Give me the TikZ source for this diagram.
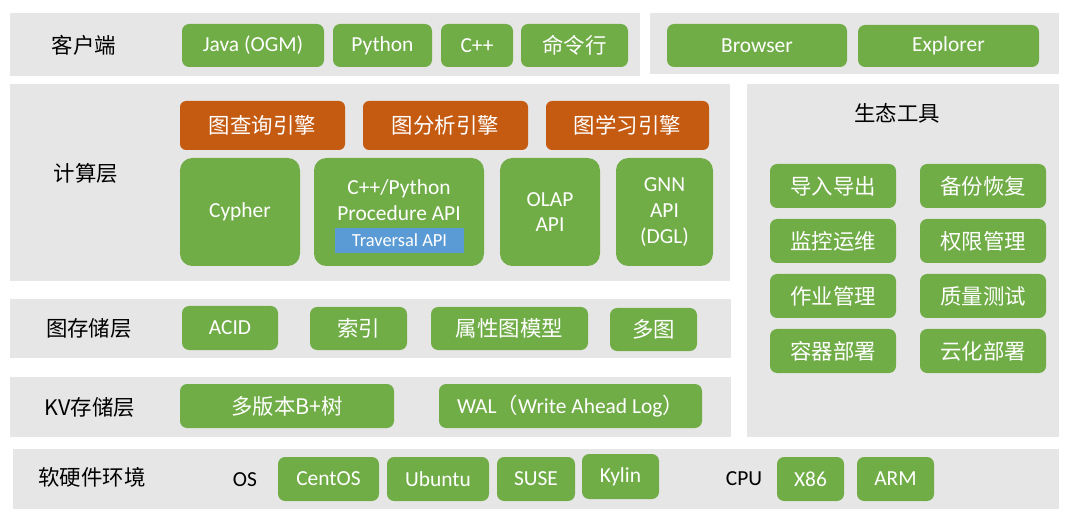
\documentclass[tikz,border=0pt]{standalone}
\usepackage{fontspec}
\setmainfont{Carlito}
\newfontfamily\cjk{Noto Sans CJK SC}
\usepackage{tikz}
\usetikzlibrary{fit}
\definecolor{panelgray}{HTML}{E7E6E6}
\definecolor{boxgreen}{HTML}{70AD47}
\definecolor{boxorange}{HTML}{C55A11}
\definecolor{boxblue}{HTML}{5B9BD5}
\tikzset{
  panel/.style={fill=panelgray, inner sep=0pt},
  size/.style 2 args={minimum width=#1*0.02cm, minimum height=#2*0.02cm},
  gbox/.style={fill=boxgreen, rounded corners=4pt, inner sep=0pt, text=white, align=center},
  bigbox/.style={gbox, rounded corners=7pt},
  obox/.style={fill=boxorange, rounded corners=3.5pt, inner sep=0pt, text=white},
  tbox/.style={fill=boxblue, inner sep=0pt, text=white, font=\fontsize{10.5}{12}\selectfont},
  lbl/.style={text=black, inner sep=0pt},
}

\begin{document}
\begin{tikzpicture}[x=0.02cm, y=-0.02cm, font=\fontsize{12.2}{14.7}\selectfont]
    \useasboundingbox (0,0) rectangle (1072,520);
    % Layer panels
    \node[panel, fit={(10,13) (640,76)}] (client) {};
    \node[panel, fit={(650,13) (1059,74)}] (web) {};
    \node[panel, fit={(10,84) (730,281)}] (compute) {};
    \node[panel, fit={(747,84) (1059,437)}] (eco) {};
    \node[panel, fit={(10,299) (731,358)}] (storage) {};
    \node[panel, fit={(10,377) (731,437)}] (kv) {};
    \node[panel, fit={(13,449) (1059,509)}] (env) {};
    % Layer labels
    \node[lbl] (clientlbl) at (84,45) {\cjk 客户端};
    \node[lbl] (computelbl) at (86,173) {\cjk 计算层};
    \node[lbl] (storagelbl) at (89,328) {\cjk 图存储层};
    \node[lbl] (kvlbl) at (90,407) {\cjk KV存储层};
    \node[lbl] (envlbl) at (92,477) {\cjk 软硬件环境};
    \node[lbl] (ecolbl) at (897,113) {\cjk 生态工具};
    % Client row
    \node[gbox, size={142}{43}] (java) at (253,45.5) {Java (OGM)};
    \node[gbox, size={99}{43}] (python) at (382.5,45.5) {Python};
    \node[gbox, size={72}{43}] (cpp) at (477,45.5) {C++};
    \node[gbox, size={107}{43}] (cmd) at (574.5,45.5) {\cjk 命令行};
    \node[gbox, size={180}{43}] (browser) at (757,45.5) {Browser};
    \node[gbox, size={181}{42}] (explorer) at (948.5,46) {Explorer};
    % Engines
    \node[obox, size={165}{49}] (query) at (262.5,125.5) {\cjk 图查询引擎};
    \node[obox, size={165}{49}] (analysis) at (445.5,125.5) {\cjk 图分析引擎};
    \node[obox, size={163}{49}] (learning) at (627.5,125.5) {\cjk 图学习引擎};
    % APIs
    \node[bigbox, size={120}{108}] (cypher) at (240,212) {Cypher};
    \node[bigbox, size={170}{108}] (procbox) at (399,212) {};
    \node[gbox, fill=none] (proc) at (399,200) {C++/Python\\Procedure API};
    \node[tbox, size={129}{25}] (traversal) at (399.5,240.5) {Traversal API};
    \node[bigbox, size={100}{108}] (olap) at (550,212) {OLAP\\API};
    \node[bigbox, size={97}{108}] (gnn) at (664.5,212) {GNN\\API\\(DGL)};
    % Ecosystem tools
    \foreach \name/\txt/\cx/\cy in {imp/导入导出/833/186, mon/监控运维/833/241,
        job/作业管理/833/296, ctr/容器部署/833/351, bak/备份恢复/983/186,
        acl/权限管理/983/241, qa/质量测试/983/296, cloud/云化部署/983/351} {
        \node[gbox, size={126}{44}] (\name) at (\cx,\cy) {\cjk \txt};
    }
    % Graph storage
    \node[gbox, size={96}{44}] (acid) at (230,328) {ACID};
    \node[gbox, size={97}{43}] (index) at (358.5,328.5) {\cjk 索引};
    \node[gbox, size={157}{43}] (propgraph) at (509.5,328.5) {\cjk 属性图模型};
    \node[gbox, size={87}{43}] (multigraph) at (653.5,329.5) {\cjk 多图};
    % KV storage
    \node[gbox, size={214}{44}] (btree) at (287,406) {\cjk 多版本B+树};
    \node[gbox, size={263}{44}] (wal) at (570.5,406) {WAL{\cjk （}Write Ahead Log{\cjk ）}};
    % Environment
    \node[lbl] (os) at (245,480) {OS};
    \node[gbox, size={101}{44}] (centos) at (328.5,479) {CentOS};
    \node[gbox, size={102}{44}] (ubuntu) at (438,479) {Ubuntu};
    \node[gbox, size={78}{44}] (suse) at (536,479) {SUSE};
    \node[gbox, size={77}{45}] (kylin) at (620.5,476.5) {Kylin};
    \node[lbl] (cpu) at (744,479) {CPU};
    \node[gbox, size={67}{44}] (x86) at (810.5,479) {X86};
    \node[gbox, size={77}{44}] (arm) at (895.5,479) {ARM};
\end{tikzpicture}
\end{document}
